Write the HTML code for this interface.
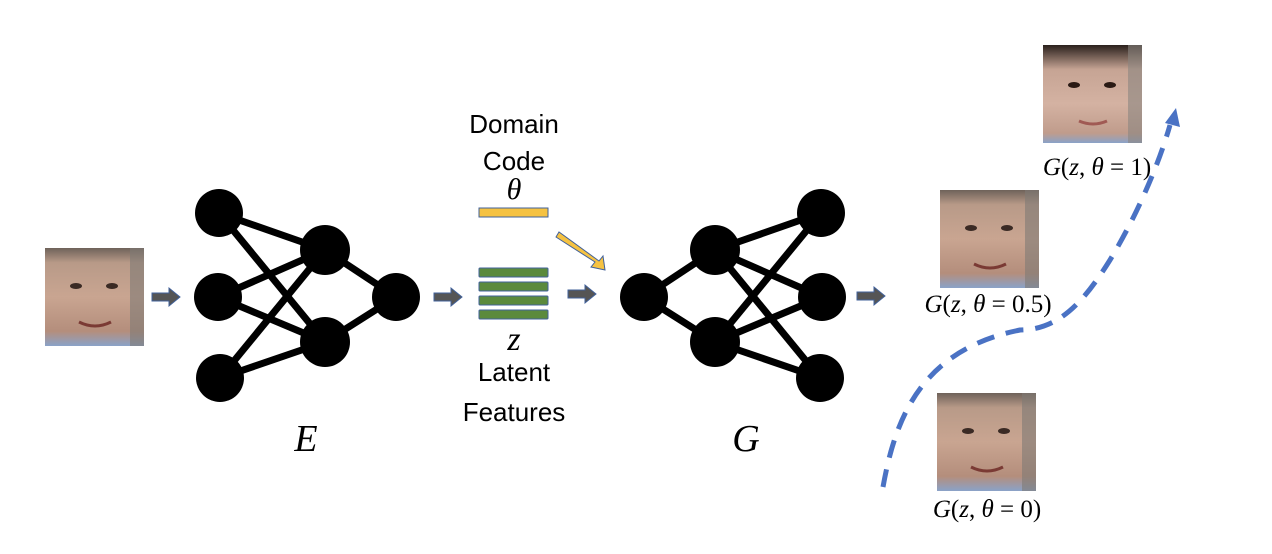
<!DOCTYPE html>
<html><head><meta charset="utf-8"><style>
body{margin:0;background:#fff;width:1272px;height:554px;overflow:hidden}
svg{display:block}
.m{font-family:"Liberation Serif",serif}
.i{font-style:italic}
.s{font-family:"Liberation Sans",sans-serif}
</style></head><body>
<svg width="1272" height="554" viewBox="0 0 1272 554">
<defs>
<linearGradient id="face" x1="0" y1="0" x2="0" y2="1">
<stop offset="0" stop-color="#6e625a"/><stop offset="0.15" stop-color="#b89a88"/><stop offset="0.5" stop-color="#c9a591"/><stop offset="0.85" stop-color="#b48e7c"/><stop offset="1" stop-color="#8aa2c8"/></linearGradient>
<linearGradient id="face2" x1="0" y1="0" x2="0" y2="1">
<stop offset="0" stop-color="#2a201c"/><stop offset="0.25" stop-color="#c6a494"/><stop offset="0.6" stop-color="#d4b2a2"/><stop offset="0.9" stop-color="#c09c8c"/><stop offset="1" stop-color="#8aa2c8"/></linearGradient>
<g id="f"><rect width="99" height="98" fill="url(#face)"/><rect x="85" width="14" height="98" fill="#7f7a74" opacity=".6"/><ellipse cx="31" cy="38" rx="6" ry="3" fill="#3a2a24"/><ellipse cx="67" cy="38" rx="6" ry="3" fill="#3a2a24"/><path d="M34 74 Q50 82 66 74" stroke="#7a3a34" stroke-width="3" fill="none"/></g>
<g id="net" stroke="#000" stroke-width="7">
<line x1="219" y1="213" x2="325" y2="250"/><line x1="219" y1="213" x2="325" y2="342"/>
<line x1="218" y1="297" x2="325" y2="250"/><line x1="218" y1="297" x2="325" y2="342"/>
<line x1="220" y1="378" x2="325" y2="250"/><line x1="220" y1="378" x2="325" y2="342"/>
<line x1="325" y1="250" x2="396" y2="297"/><line x1="325" y1="342" x2="396" y2="297"/>
<g stroke="none" fill="#000"><circle cx="219" cy="213" r="24"/><circle cx="218" cy="297" r="24"/><circle cx="220" cy="378" r="24"/><circle cx="325" cy="250" r="25"/><circle cx="325" cy="342" r="25"/><circle cx="396" cy="297" r="24"/></g>
</g>
<g id="ar"><path d="M0 -4 H17 V-9 L28 0 L17 9 V4 H0 Z" fill="#555" stroke="#41619a" stroke-width="1"/></g>
</defs>
<use href="#f" x="45" y="248"/>
<use href="#net"/>
<use href="#net" transform="translate(1040,0) scale(-1,1)"/>
<use href="#ar" x="152" y="297"/>
<use href="#ar" x="434" y="297"/>
<use href="#ar" x="568" y="294"/>
<use href="#ar" x="857" y="296"/>
<rect x="479" y="208" width="69" height="9" fill="#f5c242" stroke="#41619a"/>
<g fill="#5b8a3c" stroke="#41619a"><rect x="479" y="268" width="69" height="9" rx="1"/><rect x="479" y="282" width="69" height="9" rx="1"/><rect x="479" y="296" width="69" height="9" rx="1"/><rect x="479" y="310" width="69" height="9" rx="1"/></g>
<path d="M556 237 L559 232 L599 261 L603 256 L605 270 L591 267 L595 262 Z" fill="#f5c242" stroke="#41619a" stroke-width="1"/>
<text class="s" x="514" y="133" font-size="26" text-anchor="middle">Domain</text>
<text class="s" x="514" y="170" font-size="26" text-anchor="middle">Code</text>
<text class="m i" x="514" y="199" font-size="30" text-anchor="middle">θ</text>
<text class="m i" x="514" y="350" font-size="34" text-anchor="middle">z</text>
<text class="s" x="514" y="381" font-size="26" text-anchor="middle">Latent</text>
<text class="s" x="514" y="421" font-size="26" text-anchor="middle">Features</text>
<text class="m i" x="306" y="451" font-size="38" text-anchor="middle">E</text>
<text class="m i" x="746" y="451" font-size="38" text-anchor="middle">G</text>
<use href="#f" x="940" y="190"/>
<use href="#f" x="937" y="393"/>
<g transform="translate(1043,45)"><rect width="99" height="98" fill="url(#face2)"/><rect x="85" width="14" height="98" fill="#8a8580" opacity=".6"/><ellipse cx="31" cy="40" rx="6" ry="3" fill="#2a1a14"/><ellipse cx="67" cy="40" rx="6" ry="3" fill="#2a1a14"/><path d="M36 76 Q50 82 64 76" stroke="#a05a54" stroke-width="3" fill="none"/></g>
<text class="m" x="1097" y="175" font-size="25" text-anchor="middle"><tspan class="i">G</tspan>(<tspan class="i">z</tspan>, <tspan class="i">θ</tspan> = 1)</text>
<text class="m" x="988" y="312" font-size="25" text-anchor="middle"><tspan class="i">G</tspan>(<tspan class="i">z</tspan>, <tspan class="i">θ</tspan> = 0.5)</text>
<text class="m" x="987" y="517" font-size="25" text-anchor="middle"><tspan class="i">G</tspan>(<tspan class="i">z</tspan>, <tspan class="i">θ</tspan> = 0)</text>
<path d="M883 487 C895 420 920 350 1020 330 C1060 330 1085 300 1110 260 C1140 210 1160 160 1170 125" fill="none" stroke="#4a72c4" stroke-width="5" stroke-dasharray="18 12"/>
<path d="M1165 123 L1176 108 L1180 127 Z" fill="#4a72c4"/>
</svg>
</body></html>
